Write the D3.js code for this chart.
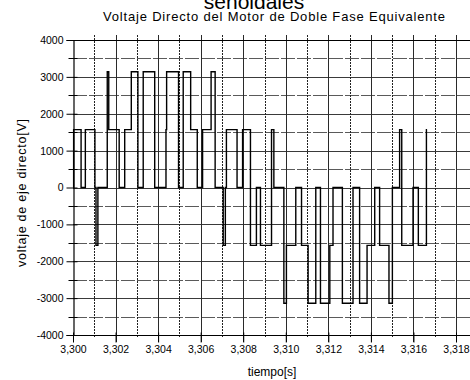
<!DOCTYPE html>
<html>
<head>
<meta charset="utf-8">
<script src="https://cdn.jsdelivr.net/npm/d3@7/dist/d3.min.js"></script>
<style>
  body { margin: 0; background: #fff; }
  svg { display: block; font-family: "Liberation Sans", Arial, sans-serif; }
</style>
</head>
<body>
<svg id="chart" width="470" height="380"></svg>
<script>
// Direct-axis voltage: switching instants (s) and the level held from each one
const switchTimes = [
  3.30000, 3.30003, 3.30038, 3.30058, 3.30103, 3.30108, 3.30117, 3.30161,
  3.30168, 3.30217, 3.30243, 3.30274, 3.30305, 3.30330, 3.30384, 3.30437,
  3.30440, 3.30496, 3.30518, 3.30553, 3.30584, 3.30609, 3.30649, 3.30668,
  3.30706, 3.30716, 3.30721, 3.30771, 3.30797, 3.30834, 3.30862, 3.30881,
  3.30933, 3.30944, 3.30991, 3.31003, 3.31047, 3.31074, 3.31105, 3.31141,
  3.31163, 3.31207, 3.31222, 3.31266, 3.31316, 3.31347, 3.31382, 3.31418,
  3.31441, 3.31485, 3.31501, 3.31535, 3.31545, 3.31598, 3.31623, 3.31661
];
const switchLevels = [
  0, 1570, 0, 1570, 0, -1570, 0, 3140,
  1570, 0, 1570, 3140, 0, 3140, 0, 1570,
  3140, 0, 3140, 1570, 0, 1570, 3140, 0,
  -1570, 0, 1570, 0, 1570, -1570, 0, -1570,
  1570, 0, -3140, -1570, 0, -1570, -3140, 0,
  -3140, -1570, 0, -3140, 0, -3140, -1570, 0,
  -1570, -3140, 0, 1570, -1570, 0, -1570, 1570
];
const endTime = 3.31664;

const xTickValues = [3.300, 3.302, 3.304, 3.306, 3.308, 3.310, 3.312, 3.314, 3.316, 3.318];
const xTickLabels = ["3,300", "3,302", "3,304", "3,306", "3,308", "3,310", "3,312", "3,314", "3,316", "3,318"];
const xMinorValues = [3.301, 3.303, 3.305, 3.307, 3.309, 3.311, 3.313, 3.315, 3.317];
const yTickValues = [-4000, -3000, -2000, -1000, 0, 1000, 2000, 3000, 4000];
const yTickLabels = ["-4000", "-3000", "-2000", "-1000", "0", "1000", "2000", "3000", "4000"];
const yMinorValues = [-3500, -2500, -1500, -500, 500, 1500, 2500, 3500];

const titleTop = "senoidales";
const title = "Voltaje Directo del Motor de Doble Fase Equivalente";
const xTitle = "tiempo[s]";
const yTitle = "voltaje de eje directo[V]";

const svg = d3.select("#chart");
const plotLeft = 73, plotRight = 470, plotTop = 40, plotBottom = 335;

const x = d3.scaleLinear().domain([3.300, 3.318]).range([plotLeft, 456]);
const y = d3.scaleLinear().domain([-4000, 4000]).range([plotBottom, plotTop]);

// Grid: horizontal
const grid = svg.append("g");
grid.selectAll("line.hmaj").data(yTickValues.filter(v => v > -4000 && v < 4000)).join("line")
  .attr("x1", plotLeft).attr("x2", plotRight)
  .attr("y1", d => Math.round(y(d)) + 0.5).attr("y2", d => Math.round(y(d)) + 0.5)
  .attr("stroke", "#3a3a3a").attr("stroke-width", 1);
grid.selectAll("line.hmin").data(yMinorValues).join("line")
  .attr("x1", plotLeft).attr("x2", plotRight)
  .attr("y1", d => Math.round(y(d)) + 0.5).attr("y2", d => Math.round(y(d)) + 0.5)
  .attr("stroke", "#5a5a5a").attr("stroke-width", 1).attr("stroke-dasharray", "14,2");

// Grid: vertical (major solid, minor dotted), reaching past the frame like ticks
grid.selectAll("line.vmaj").data(xTickValues.slice(1)).join("line")
  .attr("x1", d => Math.round(x(d)) + 0.5).attr("x2", d => Math.round(x(d)) + 0.5)
  .attr("y1", plotTop - 5).attr("y2", plotBottom + 7)
  .attr("stroke", "#2a2a2a").attr("stroke-width", 1);
grid.selectAll("line.vmin").data(xMinorValues).join("line")
  .attr("x1", d => Math.round(x(d)) + 0.5).attr("x2", d => Math.round(x(d)) + 0.5)
  .attr("y1", plotTop - 5).attr("y2", plotBottom + 3)
  .attr("stroke", "#222").attr("stroke-width", 1).attr("stroke-dasharray", "2,1");

// Top frame line
svg.append("line").attr("x1", plotLeft).attr("x2", plotRight).attr("y1", plotTop + 0.5).attr("y2", plotTop + 0.5)
  .attr("stroke", "#000").attr("stroke-width", 1.2);

// Left axis with crossing ticks
const yAxis = svg.append("g").attr("transform", `translate(${plotLeft + 0.5},0)`)
  .call(d3.axisLeft(y).tickValues(yTickValues).tickFormat((d, i) => yTickLabels[i]).tickSize(7).tickPadding(4));
yAxis.select(".domain").attr("stroke", "#000").attr("stroke-width", 1.2);
yAxis.selectAll(".tick line").attr("x2", 4).attr("x1", -7).attr("stroke", "#000");
yAxis.selectAll(".tick text").attr("font-size", 10.5).attr("fill", "#000")
  .attr("x", -10).attr("font-family", "Liberation Sans, Arial, sans-serif");
yAxis.selectAll(".minor").data(yMinorValues).join("line")
  .attr("x1", -5).attr("x2", 4)
  .attr("y1", d => Math.round(y(d)) + 0.5).attr("y2", d => Math.round(y(d)) + 0.5)
  .attr("stroke", "#000");

// Bottom axis with crossing ticks
const xAxis = svg.append("g").attr("transform", `translate(0,${plotBottom + 0.5})`)
  .call(d3.axisBottom(x).tickValues(xTickValues).tickFormat((d, i) => xTickLabels[i]).tickSize(7).tickPadding(3).tickSizeOuter(0));
xAxis.select(".domain").attr("d", `M${plotLeft},0H${plotRight}`).attr("stroke", "#000").attr("stroke-width", 1.2);
xAxis.selectAll(".tick line").attr("y1", -3).attr("y2", 7).attr("stroke", "#000");
xAxis.selectAll(".tick text").attr("font-size", 10.5).attr("fill", "#000")
  .attr("y", 10).attr("font-family", "Liberation Sans, Arial, sans-serif");

// Waveform
const points = switchTimes.map((t, i) => ({ t, v: switchLevels[i] }));
points.push({ t: endTime, v: switchLevels[switchLevels.length - 1] });
const line = d3.line().x(d => x(d.t)).y(d => y(d.v)).curve(d3.curveStepAfter);
svg.append("path").datum(points)
  .attr("d", line)
  .attr("fill", "none").attr("stroke", "#000").attr("stroke-width", 1.4)
  .attr("stroke-linejoin", "miter");

// Titles
svg.append("text").attr("x", 254).attr("y", 8.5).attr("text-anchor", "middle")
  .attr("font-size", 21).attr("fill", "#000").text(titleTop);
svg.append("text").attr("x", 274).attr("y", 21).attr("text-anchor", "middle")
  .attr("font-size", 13).attr("fill", "#000")
  .attr("textLength", 342).attr("lengthAdjust", "spacing").text(title);
svg.append("text").attr("x", 272).attr("y", 376).attr("text-anchor", "middle")
  .attr("font-size", 12).attr("fill", "#000").text(xTitle);
svg.append("text").attr("transform", "translate(26,193) rotate(-90)").attr("text-anchor", "middle")
  .attr("font-size", 12.5).attr("fill", "#000")
  .attr("textLength", 148).attr("lengthAdjust", "spacing").text(yTitle);
</script>
</body>
</html>
